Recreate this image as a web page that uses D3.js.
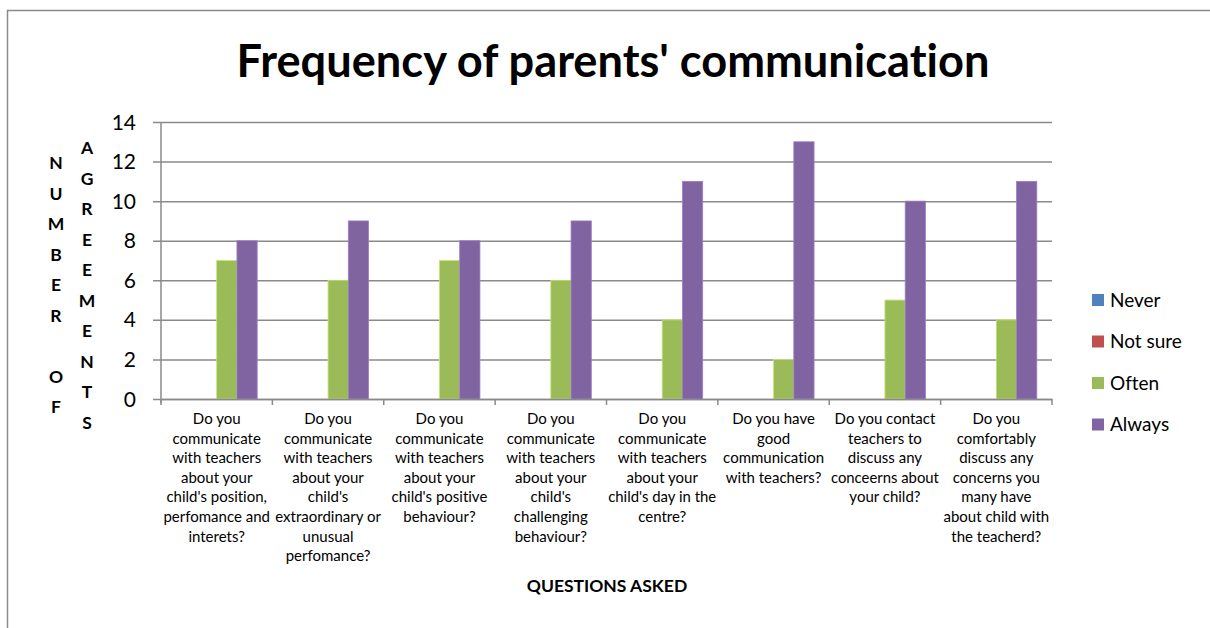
<!DOCTYPE html>
<html>
<head>
<meta charset="utf-8">
<script src="https://cdn.jsdelivr.net/npm/d3@7"></script>
<style>
  html, body { margin: 0; padding: 0; background: #fff; }
  svg { display: block; font-family: Lato, "Open Sans", sans-serif; font-variant-ligatures: none; }
</style>
</head>
<body>
<svg id="chart" width="1210" height="628"></svg>
<script>
// Questions on the x axis (line breaks as printed under each group)
const categories = [
  "Do you\ncommunicate\nwith teachers\nabout your\nchild's position,\nperfomance and\ninterets?",
  "Do you\ncommunicate\nwith teachers\nabout your\nchild's\nextraordinary or\nunusual\nperfomance?",
  "Do you\ncommunicate\nwith teachers\nabout your\nchild's positive\nbehaviour?",
  "Do you\ncommunicate\nwith teachers\nabout your\nchild's\nchallenging\nbehaviour?",
  "Do you\ncommunicate\nwith teachers\nabout your\nchild's day in the\ncentre?",
  "Do you have\ngood\ncommunication\nwith teachers?",
  "Do you contact\nteachers to\ndiscuss any\nconceerns about\nyour child?",
  "Do you\ncomfortably\ndiscuss any\nconcerns you\nmany have\nabout child with\nthe teacherd?"
];

const seriesNames = ["Never", "Not sure", "Often", "Always"];
const neverValues   = [0, 0, 0, 0, 0, 0, 0, 0];
const notSureValues = [0, 0, 0, 0, 0, 0, 0, 0];
const oftenValues   = [7, 6, 7, 6, 4, 2, 5, 4];
const alwaysValues  = [8, 9, 8, 9, 11, 13, 10, 11];
const yTicks = [0, 2, 4, 6, 8, 10, 12, 14];
const seriesColors = ["#4F81BD", "#C0504D", "#9BBB59", "#8064A2"];

const titleText = "Frequency of parents' communication";
const xTitle = "QUESTIONS ASKED";
const yTitleCols = ["NUMBER OF", "AGREEMENTS"];

const seriesValues = [neverValues, notSureValues, oftenValues, alwaysValues];

const svg = d3.select("#chart");

// outer chart frame
svg.append("rect")
  .attr("x", 7.5).attr("y", 10.5)
  .attr("width", 1240).attr("height", 640)
  .attr("fill", "none").attr("stroke", "#8a8a8a").attr("stroke-width", 1.5);

const plot = { left: 161, right: 1052, top: 122, bottom: 399 };

const x0 = d3.scaleBand().domain(d3.range(categories.length))
  .range([plot.left, plot.right]).paddingInner(0).paddingOuter(0);
const x1 = d3.scaleBand().domain(seriesNames)
  .range([0, x0.bandwidth()]).paddingInner(0).paddingOuter(0.75);
const y = d3.scaleLinear().domain([0, 14]).range([plot.bottom, plot.top]);
const color = d3.scaleOrdinal().domain(seriesNames).range(seriesColors);

// horizontal gridlines with left ticks
const yAxis = d3.axisLeft(y).tickValues(yTicks)
  .tickSize(-(plot.right - plot.left)).tickPadding(0).tickFormat("");
const gy = svg.append("g").attr("transform", `translate(${plot.left},0)`).call(yAxis);
gy.select(".domain").remove();
gy.selectAll(".tick line")
  .attr("x1", -8)
  .attr("stroke", "#8a8a8a").attr("stroke-width", 1.5);

// y tick labels
svg.append("g").selectAll("text").data(yTicks).join("text")
  .attr("x", 136).attr("y", d => y(d))
  .attr("dy", "0.36em")
  .attr("text-anchor", "end")
  .attr("font-size", 21).attr("fill", "#000")
  .text(d => d);

// bars
const groups = svg.append("g").selectAll("g")
  .data(categories.map((c, i) => i)).join("g")
  .attr("transform", i => `translate(${x0(i)},0)`);
groups.selectAll("rect")
  .data(i => seriesNames.map((s, k) => ({ s, v: seriesValues[k][i] })))
  .join("rect")
  .attr("x", d => x1(d.s))
  .attr("width", x1.bandwidth())
  .attr("y", d => y(d.v))
  .attr("height", d => y(0) - y(d.v))
  .attr("fill", d => color(d.s))
  .attr("stroke", d => d.v > 0 ? d3.color(color(d.s)).brighter(0.6) : "none")
  .attr("stroke-width", 0.8);

// axis lines
svg.append("line")
  .attr("x1", plot.left).attr("x2", plot.left)
  .attr("y1", plot.top).attr("y2", plot.bottom + 4)
  .attr("stroke", "#8a8a8a").attr("stroke-width", 1.5);
const xAxis = d3.axisBottom(x0).tickValues([]).tickSizeOuter(0);
const gx = svg.append("g").attr("transform", `translate(0,${plot.bottom})`).call(xAxis);
gx.select(".domain").attr("stroke", "#8a8a8a").attr("stroke-width", 1.5);
// category boundary ticks
svg.append("g").selectAll("line")
  .data(d3.range(categories.length + 1)).join("line")
  .attr("x1", i => plot.left + i * x0.step()).attr("x2", i => plot.left + i * x0.step())
  .attr("y1", plot.bottom).attr("y2", plot.bottom + 6)
  .attr("stroke", "#8a8a8a").attr("stroke-width", 1.5);

// category labels
const catLabels = svg.append("g").selectAll("text")
  .data(categories.map((c, i) => ({ c, i }))).join("text")
  .attr("text-anchor", "middle")
  .attr("font-size", 15).attr("fill", "#000")
  .attr("transform", d => `translate(${x0(d.i) + x0.bandwidth() / 2},424)`);
catLabels.selectAll("tspan")
  .data(d => d.c.split("\n")).join("tspan")
  .attr("x", 0).attr("y", (d, k) => k * 19.6)
  .text(d => d);
// keep each line inside its column
catLabels.selectAll("tspan").each(function () {
  const w = this.getComputedTextLength();
  if (w > 108) d3.select(this).attr("textLength", 108).attr("lengthAdjust", "spacingAndGlyphs");
});

// x title
svg.append("text")
  .attr("x", 607).attr("y", 592)
  .attr("text-anchor", "middle")
  .attr("font-size", 17.5).attr("font-weight", "bold")
  .text(xTitle);

// y title: stacked letters in two columns
const colX = [56, 87];
const colStart = [163, 148];
yTitleCols.forEach((word, ci) => {
  svg.append("g").selectAll("text")
    .data(word.split("")).join("text")
    .attr("x", colX[ci])
    .attr("y", (d, k) => colStart[ci] + k * 30.5)
    .attr("dy", "0.36em")
    .attr("text-anchor", "middle")
    .attr("font-size", 17.5).attr("font-weight", "bold")
    .text(d => d);
});

// chart title scaled to its printed width
const title = svg.append("text")
  .attr("x", 613).attr("y", 77)
  .attr("text-anchor", "middle")
  .attr("font-size", 42).attr("font-weight", "bold")
  .text(titleText);
const tw = title.node().getComputedTextLength();
title.attr("font-size", 42 * 753 / tw);

// legend
const legend = svg.append("g").selectAll("g")
  .data(seriesNames).join("g")
  .attr("transform", (d, k) => `translate(1092,${300 + k * 41.5})`);
legend.append("rect")
  .attr("x", 0).attr("y", -6).attr("width", 12).attr("height", 12)
  .attr("fill", d => color(d));
legend.append("text")
  .attr("x", 18).attr("y", 0).attr("dy", "0.36em")
  .attr("font-size", 19).attr("fill", "#000")
  .text(d => d);
</script>
</body>
</html>
